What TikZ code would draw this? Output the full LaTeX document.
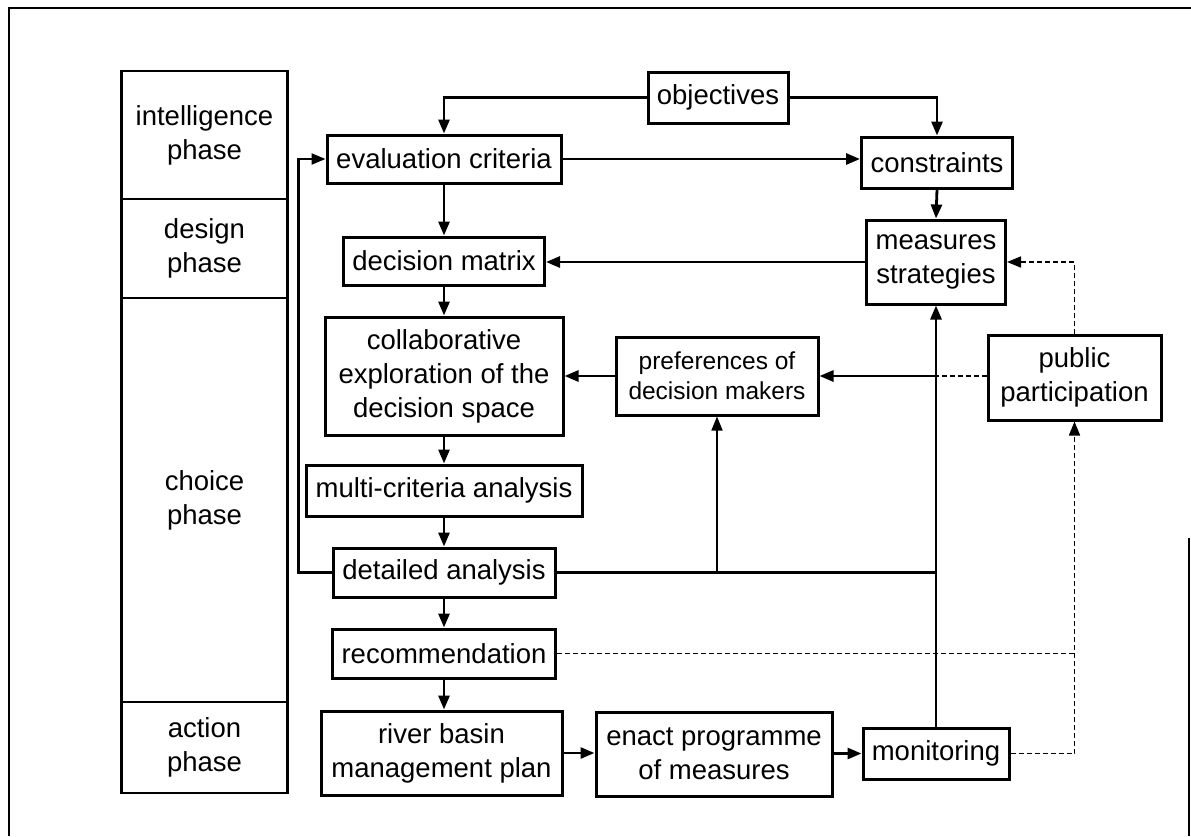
\documentclass[tikz,border=0pt]{standalone}
\usepackage{fontspec}
\setmainfont{Liberation Sans}
\usetikzlibrary{arrows.meta}
\begin{document}
\begin{tikzpicture}[x=1pt,y=-1pt,
  box/.style={draw, line width=3pt, inner sep=0pt, align=center,
    font=\fontsize{27.5}{34}\selectfont},
  smallbox/.style={box, font=\fontsize{24.5}{30}\selectfont},
  phasebox/.style={box, line width=2.4pt, minimum width=166pt},
  tipstyle/.style={-{Triangle[length=14pt,width=11pt]}},
  link/.style={line width=2.8pt},
  flow/.style={link, tipstyle},
  thinflow/.style={line width=1.6pt, tipstyle},
  dashlink/.style={line width=1.6pt, dash pattern=on 5pt off 3pt},
  dashflow/.style={dashlink, tipstyle},
]
\useasboundingbox (0,0) rectangle (1191,836);

% page frame
\draw[line width=2pt] (1191,8) -- (9,8) -- (9,836);
\draw[line width=2pt] (1189,538) -- (1189,836);

% phase column
\node[phasebox, minimum height=128pt] (intel) at (204.5,135) {intelligence\\phase};
\node[phasebox, minimum height=99pt] (design) at (204.5,248.5) {design\\phase};
\node[phasebox, minimum height=404pt] (choice) at (204.5,500) {choice\\phase};
\node[phasebox, minimum height=91pt] (action) at (204.5,747.5) {action\\phase};

% process boxes
\node[box, minimum width=140pt, minimum height=51pt] (objectives) at (718,97.5) {objectives};
\node[box, minimum width=234pt, minimum height=48pt] (eval) at (444,159) {evaluation criteria};
\node[box, minimum width=151pt, minimum height=51pt] (constraints) at (937,162.5) {constraints};
\node[box, minimum width=201pt, minimum height=48pt] (matrix) at (444,261) {decision matrix};
\node[box, minimum width=139pt, minimum height=84pt] (measures) at (936,262) {measures\\strategies};
\node[box, minimum width=238pt, minimum height=118pt] (collab) at (444,376) {collaborative\\exploration of the\\decision space};
\node[smallbox, minimum width=202pt, minimum height=78pt] (prefs) at (717,376) {preferences of\\decision makers};
\node[box, minimum width=173pt, minimum height=85pt] (public) at (1074.5,377.5) {public\\participation};
\node[box, minimum width=276pt, minimum height=51pt] (multi) at (444,490.5) {multi-criteria analysis};
\node[box, minimum width=222pt, minimum height=49pt] (detailed) at (444,572.5) {detailed analysis};
\node[box, minimum width=223pt, minimum height=49pt] (recom) at (444,653.5) {recommendation};
\node[box, minimum width=241pt, minimum height=84pt] (river) at (441.5,753) {river basin\\management plan};
\node[box, minimum width=236pt, minimum height=84pt] (enact) at (714,754) {enact programme\\of measures};
\node[box, minimum width=146pt, minimum height=51pt] (monitor) at (936,753.5) {monitoring};

% junctions
\coordinate (jpref) at (717,572.5);
\coordinate (jmon) at (936,572.5);
\coordinate (jpub) at (936,376);

% main flow
\draw[flow] (objectives.west) -| (eval.north);
\draw[flow] (objectives.east) -| (constraints.north);
\draw[flow] (eval.east) -- (eval.east -| constraints.west);
\draw[flow] (eval.south) -- (matrix.north);
\draw[flow] (constraints.south) -- (measures.north);
\draw[flow] (measures.west) -- (measures.west -| matrix.east);
\draw[flow] (matrix.south) -- (collab.north);
\draw[flow] (prefs.west) -- (collab.east);
\draw[flow] (collab.south) -- (multi.north);
\draw[flow] (multi.south) -- (detailed.north);
\draw[flow] (detailed.south) -- (recom.north);
\draw[flow] (recom.south) -- (river.north -| recom.south);
\draw[flow] (river.east) -- (enact.west |- river.east);
\draw[flow] (enact.east) -- (monitor.west -| enact.east) -- (monitor.west);

% feedback and monitoring loops
\draw[link, line width=2.2pt, tipstyle] (detailed.west) -- ++(-33,0) |- (eval.west);
\draw[link] (detailed.east) -- (jmon);
\draw[thinflow] (jpref) -- (prefs.south);
\draw[flow] (monitor.north) -- (measures.south);
\draw[flow] (jpub) -- (prefs.east);

% public participation (dashed)
\draw[dashlink] (public.west |- jpub) -- (jpub);
\draw[dashflow] (public.north) |- (measures.east);
\draw[dashlink] (recom.east) -- (recom.east -| public.south);
\draw[dashflow] (monitor.east) -| (public.south);
\end{tikzpicture}
\end{document}
